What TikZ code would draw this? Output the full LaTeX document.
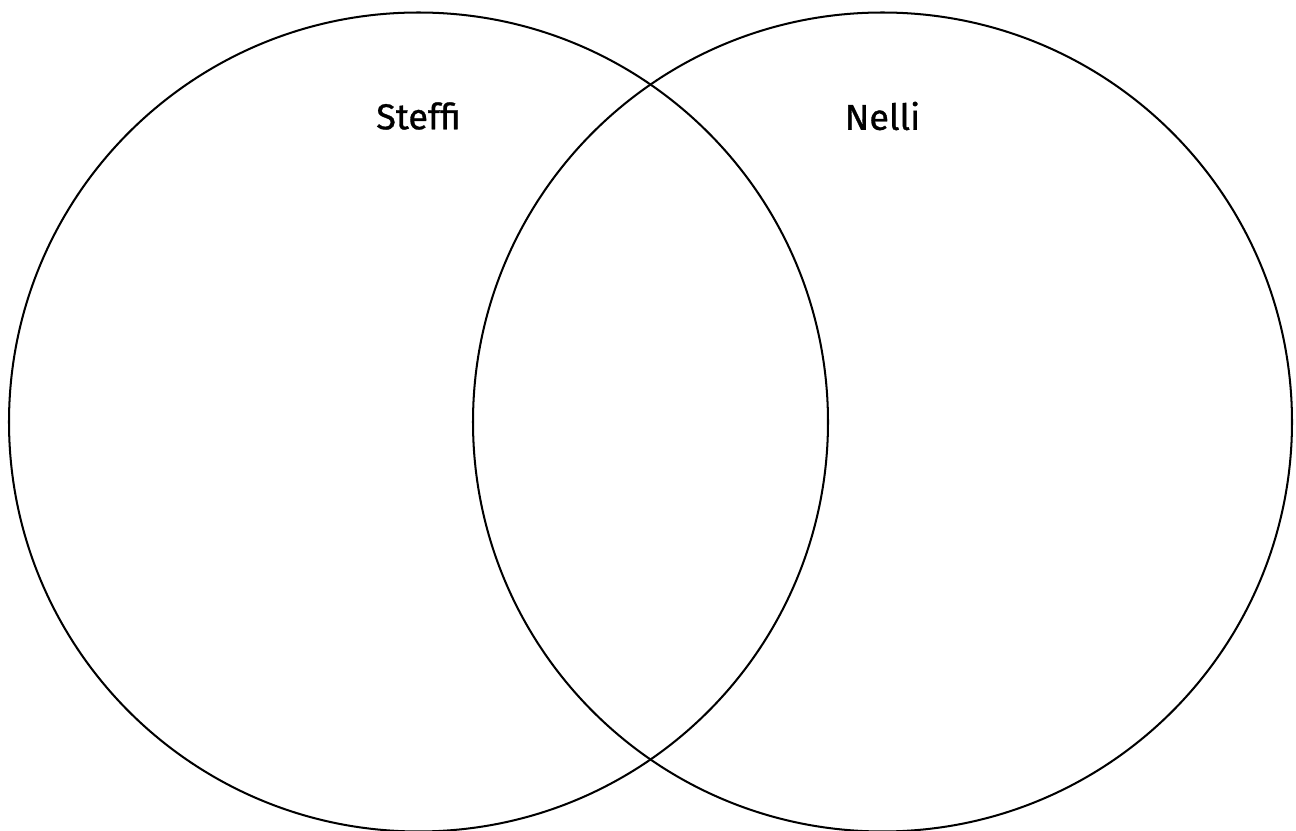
\documentclass[tikz,border=0pt]{standalone}
\usepackage{fontspec}
\setmainfont{Fira Sans}
\newfontfamily\lblfont[FakeBold=0.9]{Fira Sans}
\usetikzlibrary{positioning}

\begin{document}
\begin{tikzpicture}[
  x=0.02cm, y=-0.02cm,
  set/.style={draw,circle,line width=1.15pt,minimum size=819*0.02cm,inner sep=0pt},
  lbl/.style={font=\lblfont\fontsize{20.5}{24}\selectfont,inner sep=0pt}]
\useasboundingbox (0,0) rectangle (1296,831);
\node[set] (steffi) at (418.5,422) {};
\node[set] (nelli) at (882.5,422) {};
\node[lbl] (tsteffi) at (418.5,116) {Steffi};
\node[lbl] (tnelli) at (882.5,116) {Nelli};
\end{tikzpicture}
\end{document}
